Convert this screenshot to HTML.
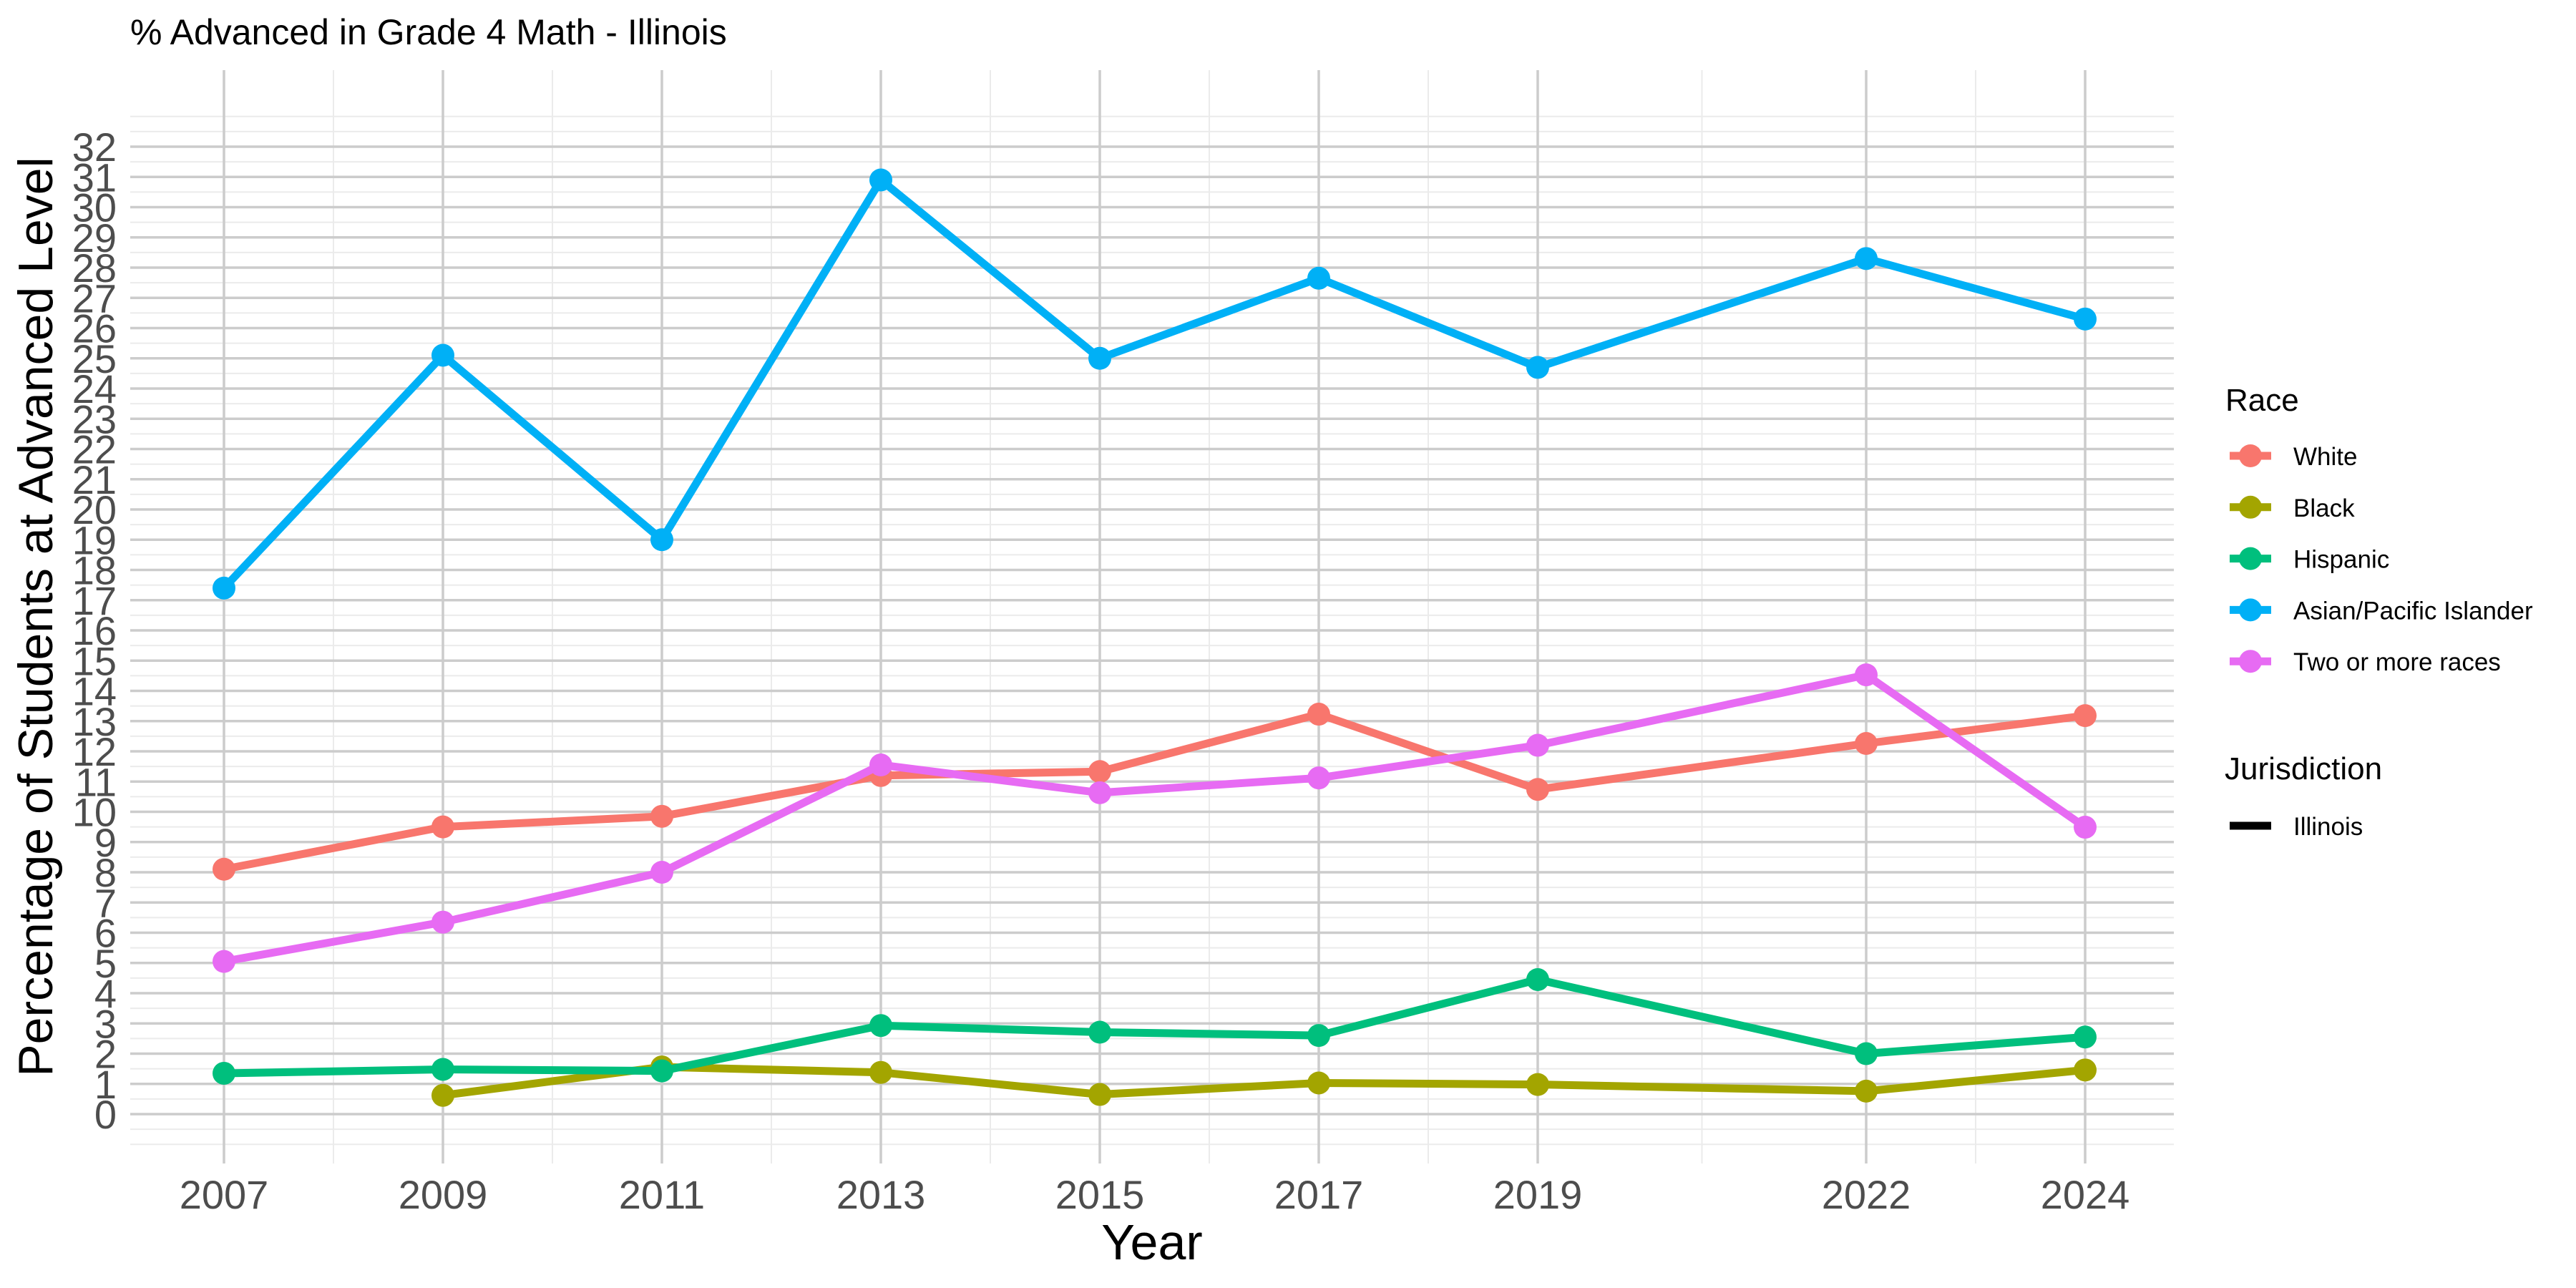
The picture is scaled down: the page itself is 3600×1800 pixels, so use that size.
<!DOCTYPE html>
<html><head><meta charset="utf-8"><style>
html,body{margin:0;padding:0;background:#fff;}
svg{display:block;font-family:"Liberation Sans",sans-serif;}
</style></head><body>
<svg id="chart" width="3600" height="1800" viewBox="0 0 3600 1800" xmlns="http://www.w3.org/2000/svg">
<rect width="3600" height="1800" fill="#fff"/>
<text x="182" y="62" font-size="50" fill="#000">% Advanced in Grade 4 Math - Illinois</text>
<g id="grid"></g>
<g id="series"></g>
<g id="axes"></g>
<text x="1610" y="1760" font-size="70" text-anchor="middle" fill="#000">Year</text>
<text transform="translate(73,862) rotate(-90)" font-size="68" text-anchor="middle" fill="#000">Percentage of Students at Advanced Level</text>
<g id="legend">
<text x="3110" y="574" font-size="44" fill="#000">Race</text>
<text x="3109" y="1089" font-size="44" fill="#000">Jurisdiction</text>
<line x1="3116" x2="3174" y1="1154" y2="1154" stroke="#000" stroke-width="11"/>
<text x="3205" y="1167" font-size="35" fill="#000">Illinois</text>
</g>
</svg>
<script>
const years = [2007, 2009, 2011, 2013, 2015, 2017, 2019, 2022, 2024];
const seriesNames = ["White", "Black", "Hispanic", "Asian/Pacific Islander", "Two or more races"];
const seriesColors = ["#F8766D", "#A3A500", "#00BF7D", "#00B0F6", "#E76BF3"];
const whiteVals = [8.1, 9.5, 9.85, 11.2, 11.33, 13.23, 10.74, 12.26, 13.18];
const blackVals = [null, 0.62, 1.56, 1.38, 0.65, 1.03, 0.98, 0.76, 1.46];
const hispanicVals = [1.35, 1.48, 1.43, 2.93, 2.71, 2.6, 4.45, 2.0, 2.55];
const asianVals = [17.4, 25.1, 19.0, 30.9, 25.0, 27.65, 24.7, 28.3, 26.3];
const twoVals = [5.05, 6.35, 8.0, 11.55, 10.63, 11.12, 12.2, 14.53, 9.49];
const yTicks = Array.from({length: 33}, (_, i) => i);
const xMinor = [2008, 2010, 2012, 2014, 2016, 2018, 2020.5, 2023];

const NS = "http://www.w3.org/2000/svg";
const X0 = 313, PX_PER_YEAR = 153, Y0 = 1557, PX_PER_UNIT = 42.25;
const PL = 182, PR = 3038, PT = 98, PB = 1626;
const xs = y => X0 + (y - 2007) * PX_PER_YEAR;
const ys = v => Y0 - v * PX_PER_UNIT;
function mk(tag, attrs, parent) {
  const e = document.createElementNS(NS, tag);
  for (const k in attrs) e.setAttribute(k, attrs[k]);
  parent.appendChild(e);
  return e;
}
const grid = document.getElementById("grid");
const axes = document.getElementById("axes");
const seriesG = document.getElementById("series");
// minor horizontal
for (let v = -1; v <= 33; v += 0.5) {
  if (Number.isInteger(v) && v >= 0 && v <= 32) continue;
  const l = mk("line", {x1: PL, x2: PR, y1: ys(v), y2: ys(v), stroke: "#EBEBEB", "stroke-width": 2}, grid);
  
  
}
xMinor.forEach(yr => {
  const l = mk("line", {x1: xs(yr), x2: xs(yr), y1: PT, y2: PB, stroke: "#EBEBEB", "stroke-width": 2}, grid);
  
  
});
yTicks.forEach(v => {
  const l = mk("line", {x1: PL, x2: PR, y1: ys(v), y2: ys(v), stroke: "#CCCCCC", "stroke-width": 3.5}, grid);
  
  
  const t = mk("text", {x: 163, y: ys(v) + 20, "font-size": 56, "text-anchor": "end", fill: "#4D4D4D"}, axes);
  t.textContent = String(v);
  
  
});
years.forEach(yr => {
  const l = mk("line", {x1: xs(yr), x2: xs(yr), y1: PT, y2: PB, stroke: "#CCCCCC", "stroke-width": 3.5}, grid);
  
  
  const t = mk("text", {x: xs(yr), y: 1689, "font-size": 56, "text-anchor": "middle", fill: "#4D4D4D"}, axes);
  t.textContent = String(yr);
  
  
});
const allVals = [whiteVals, blackVals, hispanicVals, asianVals, twoVals];
allVals.forEach((vals, si) => {
  const g = mk("g", {}, seriesG);
  
  
  const pts = [];
  vals.forEach((v, i) => { if (v !== null) pts.push([xs(years[i]), ys(v)]); });
  const pl = mk("polyline", {points: pts.map(p => p.join(",")).join(" "), fill: "none", stroke: seriesColors[si], "stroke-width": 11, "stroke-linejoin": "round"}, g);
  
  
  pts.forEach(p => {
    const c = mk("circle", {cx: p[0], cy: p[1], r: 16, fill: seriesColors[si]}, g);
    
    
  });
});
const legend = document.getElementById("legend");
seriesNames.forEach((n, i) => {
  const y = 637 + i * 71.8;
  const l = mk("line", {x1: 3116, x2: 3174, y1: y, y2: y, stroke: seriesColors[i], "stroke-width": 11}, legend);
  
  
  const c = mk("circle", {cx: 3145, cy: y, r: 16, fill: seriesColors[i]}, legend);
  
  
  const t = mk("text", {x: 3205, y: y + 13, "font-size": 35, fill: "#000"}, legend);
  t.textContent = n;
  
  
});
</script>
</body></html>
